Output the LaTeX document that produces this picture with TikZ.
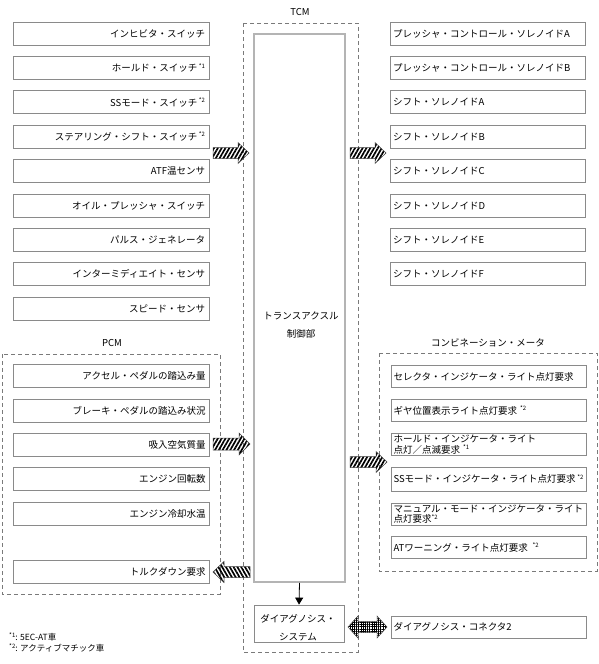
\documentclass[tikz,border=0pt]{standalone}
\usepackage{fontspec}
\setmainfont{Noto Sans CJK JP}
\usetikzlibrary{patterns.meta,arrows.meta}
\definecolor{boxgray}{HTML}{8A8A8A}
\definecolor{dashgray}{HTML}{7A7A7A}
\definecolor{ecugray}{HTML}{B4B4B4}
\newcommand\sups[1]{\raisebox{3.5pt}{\fontsize{6}{6}\selectfont *#1}}
\begin{document}
\begin{tikzpicture}[x=1pt,y=-1pt,
  every node/.style={font=\fontsize{9.5}{10.5}\selectfont, text=black},
  lbox/.style={draw=boxgray, line width=0.8pt, minimum height=23pt, text width=188pt, align=right, inner xsep=4pt, inner ysep=0pt},
  rbox/.style={draw=boxgray, line width=0.8pt, minimum height=23pt, text width=190pt, align=left, inner xsep=2.5pt, inner ysep=0pt},
  mbox/.style={rbox, minimum height=22pt},
  grp/.style={draw=dashgray, line width=0.7pt, dash pattern=on 4pt off 3pt},
  hatchR/.style={draw=black!75, line width=0.5pt, pattern={Lines[angle=60,distance=3.3pt,line width=1.7pt]}},
  hatchL/.style={draw=black!75, line width=0.5pt, pattern={Lines[angle=120,distance=3.3pt,line width=1.7pt]}},
  cross/.style={draw=black!75, line width=0.5pt, pattern={Hatch[angle=0,distance=2.2pt,line width=0.5pt]}},
  grplabel/.style={font=\fontsize{9.5}{10.5}\selectfont},
  fn/.style={anchor=west, font=\fontsize{8.5}{9}\selectfont, inner sep=0pt}
]
\useasboundingbox (0,0) rectangle (599,664);

% group frames
\draw[grp] (243,23) rectangle (358,652);
\draw[grp] (2,354) rectangle (220,594);
\draw[grp] (379,353) rectangle (597,571);
\node[grplabel] (tcmlab) at (300,12) {TCM};
\node[grplabel] (pcmlab) at (112,343) {PCM};
\node[grplabel] (metlab) at (488,343) {コンビネーション・メータ};

% TCM control unit
\node[draw=ecugray, line width=1.6pt, minimum width=91pt, minimum height=548pt, inner sep=0pt] (ecu) at (299.5,308) {};
\node[align=center, inner sep=0pt] (ecutxt) at (301,325) {トランスアクスル\\[7pt]制御部};
\node[draw=boxgray, line width=0.8pt, minimum width=90pt, minimum height=37pt, inner sep=0pt] (diag) at (299,623.5) {};
\node[align=center, inner sep=0pt, font=\fontsize{9.5}{18}\selectfont] (diagtxt) at (298,628) {ダイアグノシス・\\システム};
\draw[line width=0.8pt, -{Triangle[length=7pt,width=8pt]}] (ecu.south) -- (diag.north);

% left input switches
\node[lbox] (i1) at (111,33.5) {インヒビタ・スイッチ};
\node[lbox] (i2) at (111,67.9) {ホールド・スイッチ\,\sups{1}};
\node[lbox] (i3) at (111,102.3) {SSモード・スイッチ\,\sups{2}};
\node[lbox] (i4) at (111,136.7) {ステアリング・シフト・スイッチ\,\sups{2}};
\node[lbox] (i5) at (111,171.1) {ATF温センサ};
\node[lbox] (i6) at (111,205.5) {オイル・プレッシャ・スイッチ};
\node[lbox] (i7) at (111,239.9) {パルス・ジェネレータ};
\node[lbox] (i8) at (111,274.3) {インターミディエイト・センサ};
\node[lbox] (i9) at (111,308.7) {スピード・センサ};

% right outputs
\node[rbox] (o1) at (488,33.5) {プレッシャ・コントロール・ソレノイドA};
\node[rbox] (o2) at (488,67.9) {プレッシャ・コントロール・ソレノイドB};
\node[rbox] (o3) at (488,102.3) {シフト・ソレノイドA};
\node[rbox] (o4) at (488,136.7) {シフト・ソレノイドB};
\node[rbox] (o5) at (488,171.1) {シフト・ソレノイドC};
\node[rbox] (o6) at (488,205.5) {シフト・ソレノイドD};
\node[rbox] (o7) at (488,239.9) {シフト・ソレノイドE};
\node[rbox] (o8) at (488,274.3) {シフト・ソレノイドF};

% PCM
\node[lbox] (p1) at (111.5,376) {アクセル・ペダルの踏込み量};
\node[lbox] (p2) at (111.5,410.4) {ブレーキ・ペダルの踏込み状況};
\node[lbox] (p3) at (111.5,444.8) {吸入空気質量};
\node[lbox] (p4) at (111.5,479.2) {エンジン回転数};
\node[lbox] (p5) at (111.5,513.6) {エンジン冷却水温};
\node[lbox] (p6) at (111.5,571.5) {トルクダウン要求};

% combination meter
\node[mbox] (m1) at (488.5,376.5) {セレクタ・インジケータ・ライト点灯要求};
\node[mbox] (m2) at (488.5,410.5) {ギヤ位置表示ライト点灯要求 \sups{2}};
\node[mbox] (m3) at (488.5,444.5) {ホールド・インジケータ・ライト\\点灯／点滅要求 \sups{1}};
\node[mbox, minimum height=24pt] (m4) at (488.5,479) {SSモード・インジケータ・ライト点灯要求\,\sups{2}};
\node[mbox] (m5) at (488.5,514) {マニュアル・モード・インジケータ・ライト\\点灯要求\sups{2}};
\node[mbox] (m6) at (488.5,547.5) {ATワーニング・ライト点灯要求 \,\sups{2}};

% diagnosis connector
\node[mbox] (dc) at (488.5,627) {ダイアグノシス・コネクタ2};

% hatched block arrows
\coordinate (a1) at (213,153);
\coordinate (a2) at (350,153);
\coordinate (a3) at (213,444);
\coordinate (a4) at (350,462);
\coordinate (a5) at (250,572);
\coordinate (a6) at (348,627);
\draw[hatchR] (a1) ++(0,-5.5) -- ++(25,0) -- ++(0,-5) -- ++(11,10.5) -- ++(-11,10.5) -- ++(0,-5) -- ++(-25,0) -- cycle;
\draw[hatchR] (a2) ++(0,-5.5) -- ++(25,0) -- ++(0,-5) -- ++(11,10.5) -- ++(-11,10.5) -- ++(0,-5) -- ++(-25,0) -- cycle;
\draw[hatchR] (a3) ++(0,-6) -- ++(26,0) -- ++(0,-5) -- ++(11,11) -- ++(-11,11) -- ++(0,-5) -- ++(-26,0) -- cycle;
\draw[hatchR] (a4) ++(0,-5.5) -- ++(26,0) -- ++(0,-5) -- ++(11,10.5) -- ++(-11,10.5) -- ++(0,-5) -- ++(-26,0) -- cycle;
\draw[hatchL] (a5) ++(0,-5.5) -- ++(-26,0) -- ++(0,-5) -- ++(-11,10.5) -- ++(11,10.5) -- ++(0,-5) -- ++(26,0) -- cycle;
\draw[cross] (a6) -- ++(10,-11) -- ++(0,5.5) -- ++(19,0) -- ++(0,-5.5) -- ++(10,11) -- ++(-10,11) -- ++(0,-5.5) -- ++(-19,0) -- ++(0,5.5) -- cycle;

% footnotes
\node[fn] (f1) at (9,637) {\sups{1}: 5EC-AT車};
\node[fn] (f2) at (9,648) {\sups{2}: アクティブマチック車};
\end{tikzpicture}
\end{document}
